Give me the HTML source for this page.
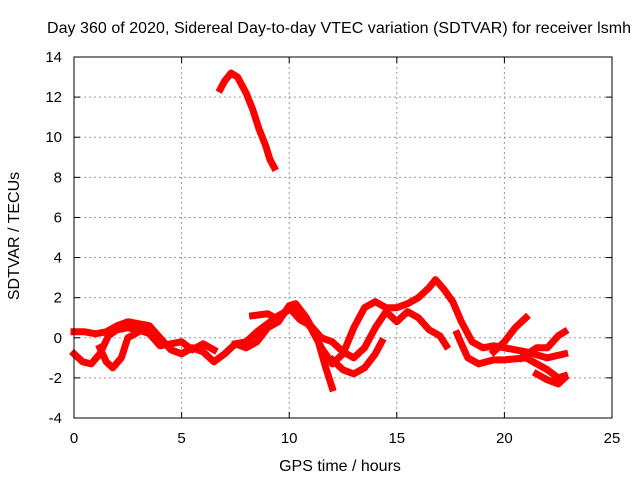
<!DOCTYPE html>
<html><head><meta charset="utf-8"><style>
body{margin:0;background:#fff}
svg text{font-family:"Liberation Sans",sans-serif;font-size:15px;fill:#000}
svg text.big{font-size:16px}
</style></head><body>
<svg width="640" height="480" xmlns="http://www.w3.org/2000/svg">
<rect width="640" height="480" fill="#fff"/>
<g id="grid"></g>
<g id="series"></g>
<rect x="74" y="57" width="538" height="361" fill="none" stroke="#000" stroke-width="1"/>
<g id="ticks"></g>
<text class="big" x="339" y="33" text-anchor="middle" textLength="584">Day 360 of 2020, Sidereal Day-to-day VTEC variation (SDTVAR) for receiver lsmh</text>
<text class="big" x="340" y="471" text-anchor="middle">GPS time / hours</text>
<text class="big" x="19" y="236" text-anchor="middle" transform="rotate(-90 19 236)">SDTVAR / TECUs</text>
</svg>
<script>
const xTicks=[0,5,10,15,20,25];
const yTicks=[-4,-2,0,2,4,6,8,10,12,14];
const trackHigh=[[6.8,12.4],[7.0,12.8],[7.3,13.2],[7.6,13.0],[8.0,12.2],[8.3,11.4],[8.6,10.4],[8.9,9.6],[9.1,8.9],[9.3,8.5]];
const track1=[[0,0.3],[0.5,0.3],[1,0.2],[1.5,0.3],[2,0.6],[2.5,0.8],[3,0.7],[3.5,0.6],[4,0.0],[4.5,-0.6],[5,-0.8],[5.5,-0.5],[6,-0.7],[6.5,-1.2],[7,-0.8],[7.5,-0.3],[8,-0.5],[8.5,-0.2],[9,0.5],[9.5,0.8],[10,1.6],[10.3,1.7],[10.8,1.0],[11.3,0.0],[11.7,-1.5],[12,-2.5]];
const track2=[[0,-0.8],[0.4,-1.2],[0.8,-1.3],[1.2,-0.8],[1.6,0.1],[2.0,0.4],[2.5,0.5],[3,0.4],[3.5,0.2],[4,-0.4],[4.5,-0.3],[5,-0.2],[5.5,-0.6],[6,-0.3],[6.5,-0.6]];
const track3=[[1.2,-0.5],[1.5,-1.2],[1.8,-1.5],[2.2,-1.0],[2.5,0.0],[3,0.3],[3.5,0.5]];
const track4=[[7.5,-0.3],[8,-0.2],[8.5,0.3],[9,0.7],[9.5,1.1],[10,1.4],[10.5,1.2],[11,0.5],[11.5,-0.5],[12,-1.3],[12.5,-0.8],[13,0.5],[13.5,1.5],[14,1.8],[14.5,1.5],[15,1.5],[15.5,1.7],[16,2.0],[16.5,2.5],[16.8,2.9],[17.2,2.4],[17.6,1.8],[18,0.8],[18.5,-0.2],[19,-0.5],[19.5,-0.4],[20,-0.5],[21,-0.7],[22,-1.0],[22.8,-0.8]];
const track5=[[8.3,1.1],[9,1.2],[9.5,0.9],[10,1.5],[10.5,0.9],[11,0.6],[11.5,0.0],[12,-0.2],[12.5,-0.7],[13,-1.0],[13.5,-0.5],[14,0.5],[14.5,1.3],[15,0.8],[15.5,1.3],[16,1.0],[16.5,0.4],[17,0.1],[17.3,-0.4]];
const track6=[[12.0,-1.1],[12.5,-1.6],[13,-1.8],[13.5,-1.5],[14,-0.8],[14.3,-0.2]];
const track7=[[17.8,0.2],[18,-0.3],[18.3,-1.0],[18.8,-1.3],[19.5,-1.1],[20,-1.1],[21,-1.0],[21.5,-1.3],[22,-1.6],[22.5,-2.0],[22.8,-1.9]];
const track8=[[19.5,-0.7],[20,-0.2],[20.5,0.5],[21,1.0]];
const track9=[[20.8,-1.0],[21.5,-0.5],[22,-0.5],[22.5,0.1],[22.8,0.3]];
const track10=[[21.5,-1.8],[22,-2.1],[22.5,-2.3],[22.8,-2.0]];
const tracks=[trackHigh,track1,track2,track3,track4,track5,track6,track7,track8,track9,track10];
const X=h=>74+h*(538/25);
const Y=v=>418-(v+4)*(361/18);
const NS="http://www.w3.org/2000/svg";
const grid=document.getElementById('grid'),ticks=document.getElementById('ticks'),series=document.getElementById('series');
function mk(tag,attrs,parent){const e=document.createElementNS(NS,tag);for(const k in attrs)e.setAttribute(k,attrs[k]);parent.appendChild(e);return e;}
xTicks.forEach(t=>{
 if(t>0&&t<25){const l=mk('line',{x1:X(t),x2:X(t),y1:57,y2:418,stroke:'#999','stroke-dasharray':'2,3'},grid);
 
 }
 const a=mk('line',{x1:X(t),x2:X(t),y1:418,y2:412,stroke:'#000'},ticks);
 
 
 const b=mk('line',{x1:X(t),x2:X(t),y1:57,y2:63,stroke:'#000'},ticks);
 
 
 const tx=mk('text',{x:X(t),y:443,'text-anchor':'middle'},ticks);tx.textContent=t;
 
 
});
yTicks.forEach(t=>{
 if(t>-4&&t<14){const l=mk('line',{x1:74,x2:612,y1:Y(t),y2:Y(t),stroke:'#999','stroke-dasharray':'2,3'},grid);
 
 }
 const a=mk('line',{x1:74,x2:80,y1:Y(t),y2:Y(t),stroke:'#000'},ticks);
 
 
 const b=mk('line',{x1:606,x2:612,y1:Y(t),y2:Y(t),stroke:'#000'},ticks);
 
 
 const tx=mk('text',{x:62,y:Y(t)+5,'text-anchor':'end'},ticks);tx.textContent=t;
 
 
});
tracks.forEach(tr=>{
 const p=mk('polyline',{points:tr.map(d=>X(d[0])+','+Y(d[1])).join(' '),fill:'none',stroke:'#f00','stroke-width':7,'stroke-linejoin':'round','stroke-linecap':'square'},series);
 
 
});
</script>
</body></html>
